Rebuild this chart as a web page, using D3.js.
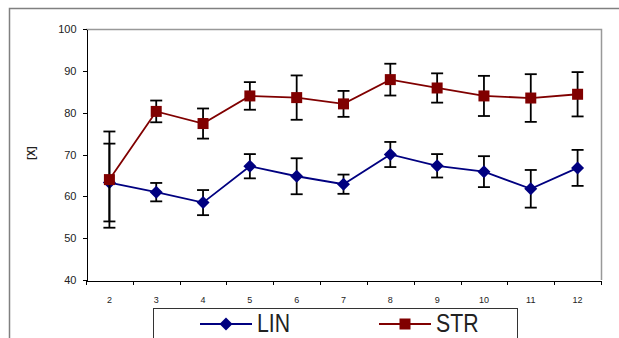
<!DOCTYPE html>
<html>
<head>
  <meta charset="utf-8">
  <title>LIN / STR</title>
  <style>
    body { margin: 0; background: #fff; }
    text { font-family: "Liberation Sans", Arial, sans-serif; fill: #222; }
    .axis path, .axis line { stroke: #000; stroke-width: 1px; shape-rendering: crispEdges; }
  </style>
</head>
<body>
  <div id="chart"></div>
  <script src="https://cdn.jsdelivr.net/npm/d3@7"></script>
  <script>
    var categories = ["2", "3", "4", "5", "6", "7", "8", "9", "10", "11", "12"];
    var linValues = [63.3, 61, 58.5, 67.2, 64.8, 62.9, 70, 67.3, 65.9, 61.8, 66.8];
    var linErrors = [9.3, 2.2, 3.0, 2.9, 4.3, 2.3, 3.0, 2.8, 3.7, 4.5, 4.3];
    var strValues = [64, 80.3, 77.4, 84.0, 83.6, 82.1, 87.9, 85.9, 84.0, 83.5, 84.4];
    var strErrors = [11.5, 2.6, 3.6, 3.3, 5.3, 3.1, 3.8, 3.5, 4.8, 5.7, 5.3];
    var yTicks = [40, 50, 60, 70, 80, 90, 100];

    var width = 619, height = 338;
    var margin = {top: 29, right: 18, bottom: 58, left: 86};

    var svg = d3.select("#chart").append("svg")
      .attr("width", width)
      .attr("height", height);

    // outer chart frame (only top and left edges visible)
    svg.append("path")
      .attr("d", "M9.5," + height + "V8.5H" + width)
      .attr("fill", "none")
      .attr("stroke", "#808080")
      .attr("stroke-width", 1.5);

    var x = d3.scaleBand()
      .domain(categories)
      .range([margin.left, width - margin.right]);

    var y = d3.scaleLinear()
      .domain([40, 100])
      .range([height - margin.bottom, margin.top]);

    // plot area border top and right
    svg.append("path")
      .attr("d", "M" + margin.left + "," + (margin.top + 0.5) + "H" + (width - margin.right + 0.5) + "V" + (height - margin.bottom))
      .attr("fill", "none")
      .attr("stroke", "#999")
      .attr("stroke-width", 1.5);

    var yAxis = svg.append("g")
      .attr("class", "axis")
      .attr("transform", "translate(" + (margin.left + 0.5) + ",0)")
      .call(d3.axisLeft(y).tickValues(yTicks).tickSize(4).tickSizeOuter(0).tickPadding(6));
    yAxis.selectAll("text").style("font-size", "11px").attr("fill", "#222");

    var xAxis = svg.append("g")
      .attr("class", "axis")
      .attr("transform", "translate(0," + (height - margin.bottom + 0.5) + ")")
      .call(d3.axisBottom(x).tickSize(0).tickPadding(16));
    xAxis.selectAll("text").style("font-size", "9px").attr("fill", "#222");

    // ticks between categories
    var bounds = categories.map(function(c) { return x(c); }).concat([x.range()[1]]);
    xAxis.selectAll("line.bound")
      .data(bounds)
      .enter().append("line")
      .attr("class", "bound")
      .attr("x1", function(d) { return Math.round(d) + 0.5; })
      .attr("x2", function(d) { return Math.round(d) + 0.5; })
      .attr("y1", 0)
      .attr("y2", 4)
      .attr("stroke", "#000");

    svg.append("text")
      .attr("transform", "translate(35,153) rotate(-90)")
      .attr("text-anchor", "middle")
      .style("font-size", "10px")
      .style("font-weight", "bold")
      .text("[X]");

    var series = [
      {name: "LIN", values: linValues, errors: linErrors, color: "#000080", shape: "diamond"},
      {name: "STR", values: strValues, errors: strErrors, color: "#800000", shape: "square"}
    ];

    var cx = function(i) { return x(categories[i]) + x.bandwidth() / 2; };
    var line = d3.line()
      .x(function(d, i) { return cx(i); })
      .y(function(d) { return y(d); });

    function marker(sel, s) {
      if (s.shape === "diamond") {
        sel.append("path").attr("d", "M0,-6.5L6.5,0L0,6.5L-6.5,0Z").attr("fill", s.color);
      } else {
        sel.append("rect").attr("x", -5.5).attr("y", -5.5).attr("width", 11).attr("height", 11).attr("fill", s.color);
      }
    }

    series.forEach(function(s) {
      var g = svg.append("g");
      g.append("path")
        .datum(s.values)
        .attr("d", line)
        .attr("fill", "none")
        .attr("stroke", s.color)
        .attr("stroke-width", 1.8);

      var eb = g.selectAll("g.err")
        .data(s.values)
        .enter().append("g")
        .attr("class", "err")
        .attr("stroke", "#000")
        .attr("stroke-width", 1.8);
      eb.append("line")
        .attr("x1", function(d, i) { return cx(i); })
        .attr("x2", function(d, i) { return cx(i); })
        .attr("y1", function(d, i) { return y(d + s.errors[i]); })
        .attr("y2", function(d, i) { return y(d - s.errors[i]); });
      [1, -1].forEach(function(sign) {
        eb.append("line")
          .attr("x1", function(d, i) { return cx(i) - 6; })
          .attr("x2", function(d, i) { return cx(i) + 6; })
          .attr("y1", function(d, i) { return y(d + sign * s.errors[i]); })
          .attr("y2", function(d, i) { return y(d + sign * s.errors[i]); });
      });

      g.selectAll("g.mk")
        .data(s.values)
        .enter().append("g")
        .attr("class", "mk")
        .attr("transform", function(d, i) { return "translate(" + cx(i) + "," + y(d) + ")"; })
        .each(function() { marker(d3.select(this), s); });
    });

    // legend
    var legend = svg.append("g");
    legend.append("rect")
      .attr("x", 153.5).attr("y", 308.5)
      .attr("width", 364).attr("height", 40)
      .attr("fill", "#fff")
      .attr("stroke", "#333")
      .attr("stroke-width", 1);

    var items = legend.selectAll("g.item")
      .data(series)
      .enter().append("g")
      .attr("class", "item")
      .attr("transform", function(d, i) { return "translate(" + (200 + i * 179) + ",324)"; });
    items.append("line")
      .attr("x1", 0).attr("x2", 52)
      .attr("stroke", function(d) { return d.color; })
      .attr("stroke-width", 2);
    items.append("g")
      .attr("transform", "translate(26,0)")
      .each(function(d) { marker(d3.select(this), d); });
    items.append("text")
      .attr("transform", "translate(57,8) scale(0.85,1)")
      .style("font-size", "25px")
      .text(function(d) { return d.name; });
  </script>
</body>
</html>
